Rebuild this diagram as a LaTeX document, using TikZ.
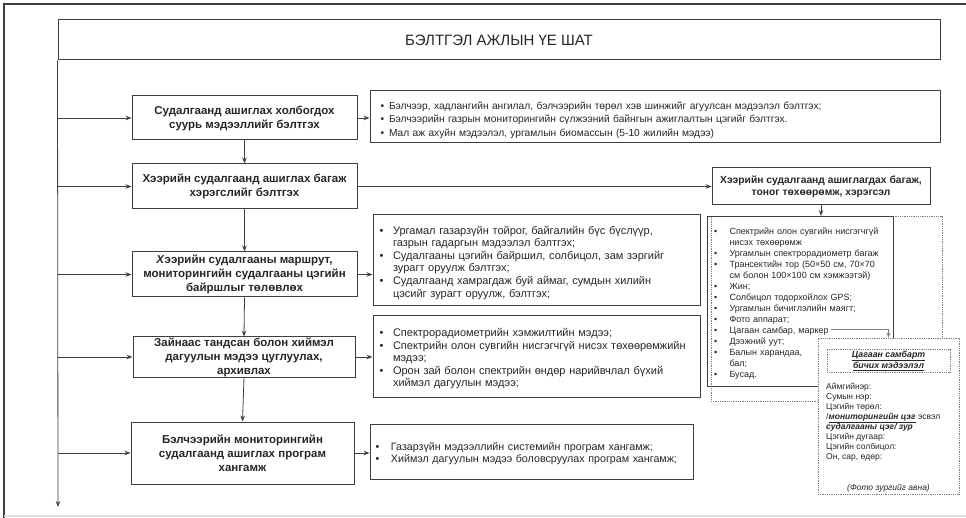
\documentclass[tikz,border=0pt]{standalone}
\usepackage{fontspec}
\setmainfont{Liberation Sans}
\usetikzlibrary{arrows.meta,positioning}
\definecolor{lncol}{HTML}{3F3F3F}
\definecolor{txtcol}{HTML}{262626}
\newcommand{\bitem}[1][13pt]{\par\noindent\hangindent=#1\hangafter=1\makebox[#1][l]{\hspace{1.5pt}\textbullet}}

\begin{document}
\begin{tikzpicture}[x=1pt, y=-1pt,
	box/.style={draw=lncol, line width=1pt, align=center, text=txtcol,
		font=\fontsize{11.5}{14}\selectfont\bfseries, inner sep=1pt},
	list/.style={draw=lncol, line width=1pt, align=left, text=txtcol,
		font=\fontsize{11}{12.6}\selectfont, inner xsep=8pt, inner ysep=2pt},
	dotbox/.style={draw=gray, densely dotted, line width=0.8pt},
	arr/.style={-{Stealth[length=6pt,width=4.5pt]}, draw=lncol, line width=0.8pt}
]
	\useasboundingbox (0,0) rectangle (966,518);
	% frame
	\draw[lncol, line width=2.5pt] (4,518) -- (4,4) -- (966,4);
	\draw[gray!25, line width=1.5pt] (4,516) -- (966,516);

	\node[box, minimum width=882, minimum height=40,
		font=\fontsize{15}{17}\selectfont] (title) at (499,40) {БЭЛТГЭЛ АЖЛЫН ҮЕ ШАТ};

	% left column
	\node[box, minimum width=225, minimum height=44] (b1) at (244.5,118)
		{Судалгаанд ашиглах холбогдох\\суурь мэдээллийг бэлтгэх};
	\node[box, minimum width=225, minimum height=45] (b2) at (244.5,186.5)
		{Хээрийн судалгаанд ашиглах багаж\\хэрэгслийг бэлтгэх};
	\node[box, minimum width=225, minimum height=45] (b3) at (244.5,274.5)
		{\textit{Х}ээрийн судалгааны маршрут,\\мониторингийн судалгааны цэгийн\\байршлыг төлөвлөх};
	\node[box, minimum width=222, minimum height=40, inner ysep=0pt] (b4) at (244,357)
		{Зайнаас тандсан болон хиймэл\\дагуулын мэдээ цуглуулах,\\архивлах};
	\node[box, minimum width=223, minimum height=62] (b5) at (242.5,453)
		{Бэлчээрийн мониторингийн\\судалгаанд ашиглах програм\\хангамж};

	\coordinate (spineend) at (58,507);
	\draw[arr] (title.south west) -- (spineend);
	\draw[arr] (title.south west |- b1.west) -- (b1.west);
	\draw[arr] (title.south west |- b2.west) -- (b2.west);
	\draw[arr] (title.south west |- b3.west) -- (b3.west);
	\draw[arr] (title.south west |- b4.west) -- (b4.west);
	\draw[arr] (title.south west |- b5.west) -- (b5.west);
	\draw[arr] (b1.south) -- (b2.north);
	\draw[arr] (b2.south) -- (b3.north);
	\draw[arr] (b3.south) -- (b4.north);
	\draw[arr] (b4.south) -- (b5.north);

	% right lists
	\node[list, minimum width=570, minimum height=52, text width=552, inner xsep=9pt,
		font=\fontsize{10.2}{13.5}\selectfont] (r1) at (655,117)
		{\bitem[10pt]Бэлчээр, хадлангийн ангилал, бэлчээрийн төрөл хэв шинжийг агуулсан мэдээлэл бэлтгэх;
		 \bitem[10pt]Бэлчээрийн газрын мониторингийн сүлжээний байнгын ажиглалтын цэгийг бэлтгэх.
		 \bitem[10pt]Мал аж ахуйн мэдээлэл, ургамлын биомассын (5-10 жилийн мэдээ)\par};
	\node[list, minimum width=327, minimum height=91, text width=317, inner xsep=5pt] (r3) at (536.5,260.5)
		{\bitem[15pt]Ургамал газарзүйн тойрог, байгалийн бүс бүслүүр,\newline газрын гадаргын мэдээлэл бэлтгэх;
		 \bitem[15pt]Судалгааны цэгийн байршил, солбицол, зам зэргийг\newline зурагт оруулж бэлтгэх;
		 \bitem[15pt]Судалгаанд хамрагдаж буй аймаг, сумдын хилийн\newline цэсийг зурагт оруулж, бэлтгэх;\par};
	\node[list, minimum width=327, minimum height=81, text width=317, inner xsep=5pt] (r4) at (536.5,356.5)
		{\bitem[15pt]Спектрорадиометрийн хэмжилтийн мэдээ;
		 \bitem[15pt]Спектрийн олон сувгийн нисгэгчгүй нисэх төхөөрөмжийн\newline мэдээ;
		 \bitem[15pt]Орон зай болон спектрийн өндөр нарийвчлал бүхий\newline хиймэл дагуулын мэдээ;\par};
	\node[list, minimum width=323, minimum height=55, text width=315, inner xsep=4pt,
		font=\fontsize{10.7}{12}\selectfont] (r5) at (531.5,451.5)
		{\bitem[17pt]Газарзүйн мэдээллийн системийн програм хангамж;
		 \bitem[17pt]Хиймэл дагуулын мэдээ боловсруулах програм хангамж;\par};

	\draw[arr] (b1.east) -- (b1.east -| r1.west);
	\draw[arr] (b3.east) -- (b3.east -| r3.west);
	\draw[arr] (b4.east) -- (b4.east -| r4.west);
	\draw[arr] (b5.east) -- (b5.east -| r5.west);

	% tools
	\node[box, minimum width=218, minimum height=37,
		font=\fontsize{10.3}{12}\selectfont\bfseries] (tools) at (821,186.5)
		{Хээрийн судалгаанд ашиглагдах багаж,\\тоног төхөөрөмж, хэрэгсэл};
	\draw[arr] (b2.east) -- (b2.east -| tools.west);
	\node[dotbox, minimum width=231, minimum height=185] (tframe) at (826.5,308.5) {};
	\node[list, minimum width=186, minimum height=170, text width=176, inner xsep=5pt,
		font=\fontsize{9}{11}\selectfont, anchor=north west] (tlist) at (707,216)
		{\bitem[17pt]Спектрийн олон сувгийн нисгэгчгүй\newline нисэх төхөөрөмж
		 \bitem[17pt]Ургамлын спектрорадиометр багаж
		 \bitem[17pt]Трансектийн тор (50×50 см, 70×70\newline см болон 100×100 см хэмжээтэй)
		 \bitem[17pt]Жин;
		 \bitem[17pt]Солбицол тодорхойлох GPS;
		 \bitem[17pt]Ургамлын бичиглэлийн маягт;
		 \bitem[17pt]Фото аппарат;
		 \bitem[17pt]Цагаан самбар, маркер
		 \bitem[17pt]Дээжний уут;
		 \bitem[17pt]Балын харандаа,\newline бал;
		 \bitem[17pt]Бусад.\par};
	\draw[arr] (tools.south) -- (tools.south |- tlist.north);

	% whiteboard
	\node[dotbox, fill=white, minimum width=141, minimum height=156] (wb) at (888.5,416) {};
	\coordinate (mk) at (831,329);
	\draw[-{Stealth[length=5pt,width=4pt]}, draw=gray, line width=0.7pt] (mk) -| (wb.north);
	\node[dotbox, minimum width=123, minimum height=23, align=center, inner sep=0pt,
		text=txtcol, font=\fontsize{8.8}{10}\selectfont\bfseries\itshape] (wbtitle) at (888.5,360.5)
		{\underline{Цагаан самбарт}\\\underline{бичих мэдээлэл}};
	\node[anchor=north west, align=left, inner sep=0pt, text=txtcol,
		font=\fontsize{8.5}{10}\selectfont] (wbtext) at (826,383)
		{Аймгийнэр:\\Сумын нэр:\\Цэгийн төрөл:\\/\underline{\textbf{\textit{мониторингийн цэг}}} эсвэл\\
		 \textbf{\textit{судалгааны цэг/ зур}}\\Цэгийн дугаар:\\Цэгийн солбицол:\\Он, сар, өдөр:};
	\node[text=txtcol, inner sep=0pt, font=\fontsize{8.5}{10}\selectfont\itshape] (photo) at (888.5,488)
		{(Фото зургийг авна)};
\end{tikzpicture}
\end{document}
